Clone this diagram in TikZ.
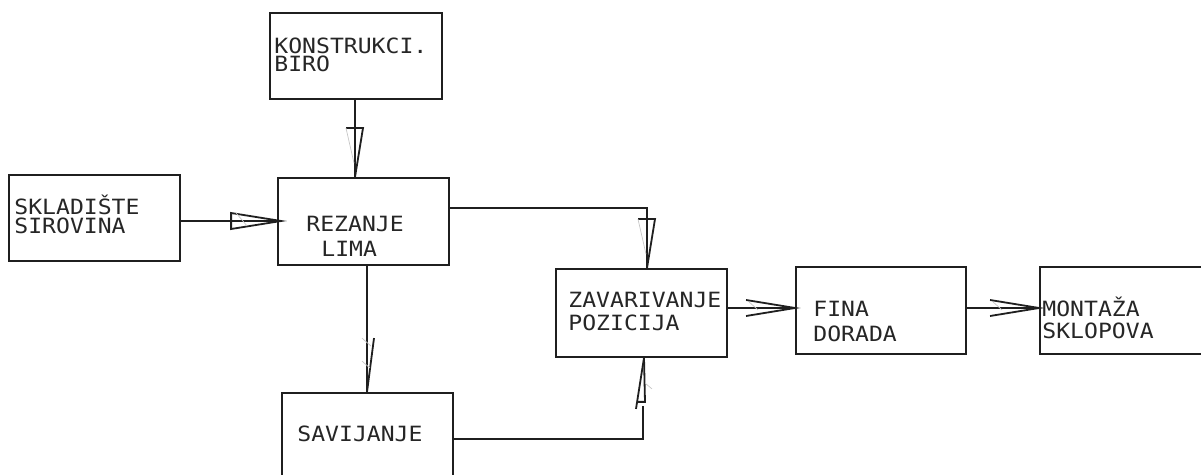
\documentclass[tikz,border=0pt]{standalone}
\usepackage{fontspec}
\newfontfamily\cadfont[FakeStretch=1.1]{DejaVu Sans Mono}
\usetikzlibrary{calc}

\tikzset{
  blok/.style={draw=black!88, line width=0.9pt, minimum width=85.5pt, minimum height=43.5pt, inner sep=0pt},
  veza/.style={draw=black!88, line width=0.9pt},
  lbl/.style={font=\cadfont\fontsize{10.5}{12}\selectfont, text=black!85, inner sep=0pt, anchor=base west},
  hatch/.style={draw=gray!45, line width=0.35pt},
  % slender arrow pointing down, bar on top, slanted right side
  pics/downbar/.style={code={
    \draw[veza] (-9,-49) -- (8,-49) -- (0,0);
    \draw[hatch] (-9,-49) -- (-1,-14);
  }},
  % single slanted stroke pointing down
  pics/downslash/.style={code={
    \draw[veza] (7,-54) -- (0,0);
    \draw[hatch] (-5,-54) -- (4,-46);
    \draw[hatch] (-5,-31) -- (3,-24);
  }},
  % slender arrow pointing up, short bar near its base
  pics/upbar/.style={code={
    \draw[veza] (-8,51) -- (0,0);
    \draw[veza] (-6,44) -- (1,44) -- (0,0);
    \draw[hatch] (2,26) -- (8,31);
  }},
  % closed triangle pointing right
  pics/righttri/.style={code={
    \draw[veza] (-50,-8) -- (-50,8) -- (0,0) -- cycle;
    \draw[hatch] (-45,-8) -- (-34,5);
  }},
  % open chevron pointing right
  pics/rightvee/.style={code={
    \draw[veza] (-49,-8) -- (0,0) -- (-49,8);
    \draw[hatch] (-46,-6) -- (-37,2);
  }},
}

\begin{document}
\begin{tikzpicture}[x=0.5pt, y=-0.5pt]
\useasboundingbox (0,0) rectangle (1201,475);

% process boxes
\node[blok, minimum width=86pt, minimum height=43pt] (konst) at (356,56) {};
\node[blok, minimum height=43pt] (sklad) at (94.5,218) {};
\node[blok] (rez) at (363.5,221.5) {};
\node[blok, minimum height=44pt] (zav) at (641.5,313) {};
\node[blok, minimum width=85pt] (fina) at (881,310.5) {};
\node[blok] (mont) at (1125.5,310.5) {};
\node[blok] (sav) at (367.5,436.5) {};

% box texts
\node[lbl] (t-konst1) at (274,54) {KONSTRUKCI.};
\node[lbl] (t-konst2) at (274,72) {BIRO};
\node[lbl] (t-sklad1) at (14,215) {SKLADIŠTE};
\node[lbl] (t-sklad2) at (14,234) {SIROVINA};
\node[lbl] (t-rez1) at (306,232) {REZANJE};
\node[lbl] (t-rez2) at (321,257) {LIMA};
\node[lbl] (t-zav1) at (568,308) {ZAVARIVANJE};
\node[lbl] (t-zav2) at (568,331) {POZICIJA};
\node[lbl] (t-fina1) at (813,317) {FINA};
\node[lbl] (t-fina2) at (813,342) {DORADA};
\node[lbl] (t-mont1) at (1042,317) {MONTAŽA};
\node[lbl] (t-mont2) at (1042,339) {SKLOPOVA};
\node[lbl] (t-sav) at (297,442) {SAVIJANJE};

% connection points
\coordinate (kTip) at ($(konst.south |- rez.north)+(-1,0)$);
\coordinate (sTip) at ($(sklad.east -| rez.west)+(4,3)$);
\coordinate (rsTip) at ($(sav.north)+(-0.5,0)$);
\coordinate (rzTip) at ($(zav.north)+(5.5,0)$);
\coordinate (szTip) at ($(zav.south)+(2.5,0)$);
\coordinate (zfTip) at ($(fina.west)+(0,-2.5)$);
\coordinate (fmTip) at ($(mont.west)+(0,-2.5)$);

% flows
\draw[veza] ($(konst.south)+(-1,0)$) -- (kTip);
\pic at (kTip) {downbar};

\draw[veza] ($(sklad.east)+(0,3)$) -- (sTip);
\pic at (sTip) {righttri};

\draw[veza] (rsTip |- rez.south) -- (rsTip);
\pic at (rsTip) {downslash};

\draw[veza] ($(rez.east)+(0,-13.5)$) -| (rzTip);
\pic at (rzTip) {downbar};

\draw[veza] ($(sav.east)+(0,2.5)$) -| ($(szTip)+(-1,48)$);
\pic at (szTip) {upbar};

\draw[veza] ($(zav.east)+(0,-5)$) -- (zfTip);
\pic at (zfTip) {rightvee};

\draw[veza] ($(fina.east)+(0,-2.5)$) -- (fmTip);
\pic at (fmTip) {rightvee};
\end{tikzpicture}
\end{document}
